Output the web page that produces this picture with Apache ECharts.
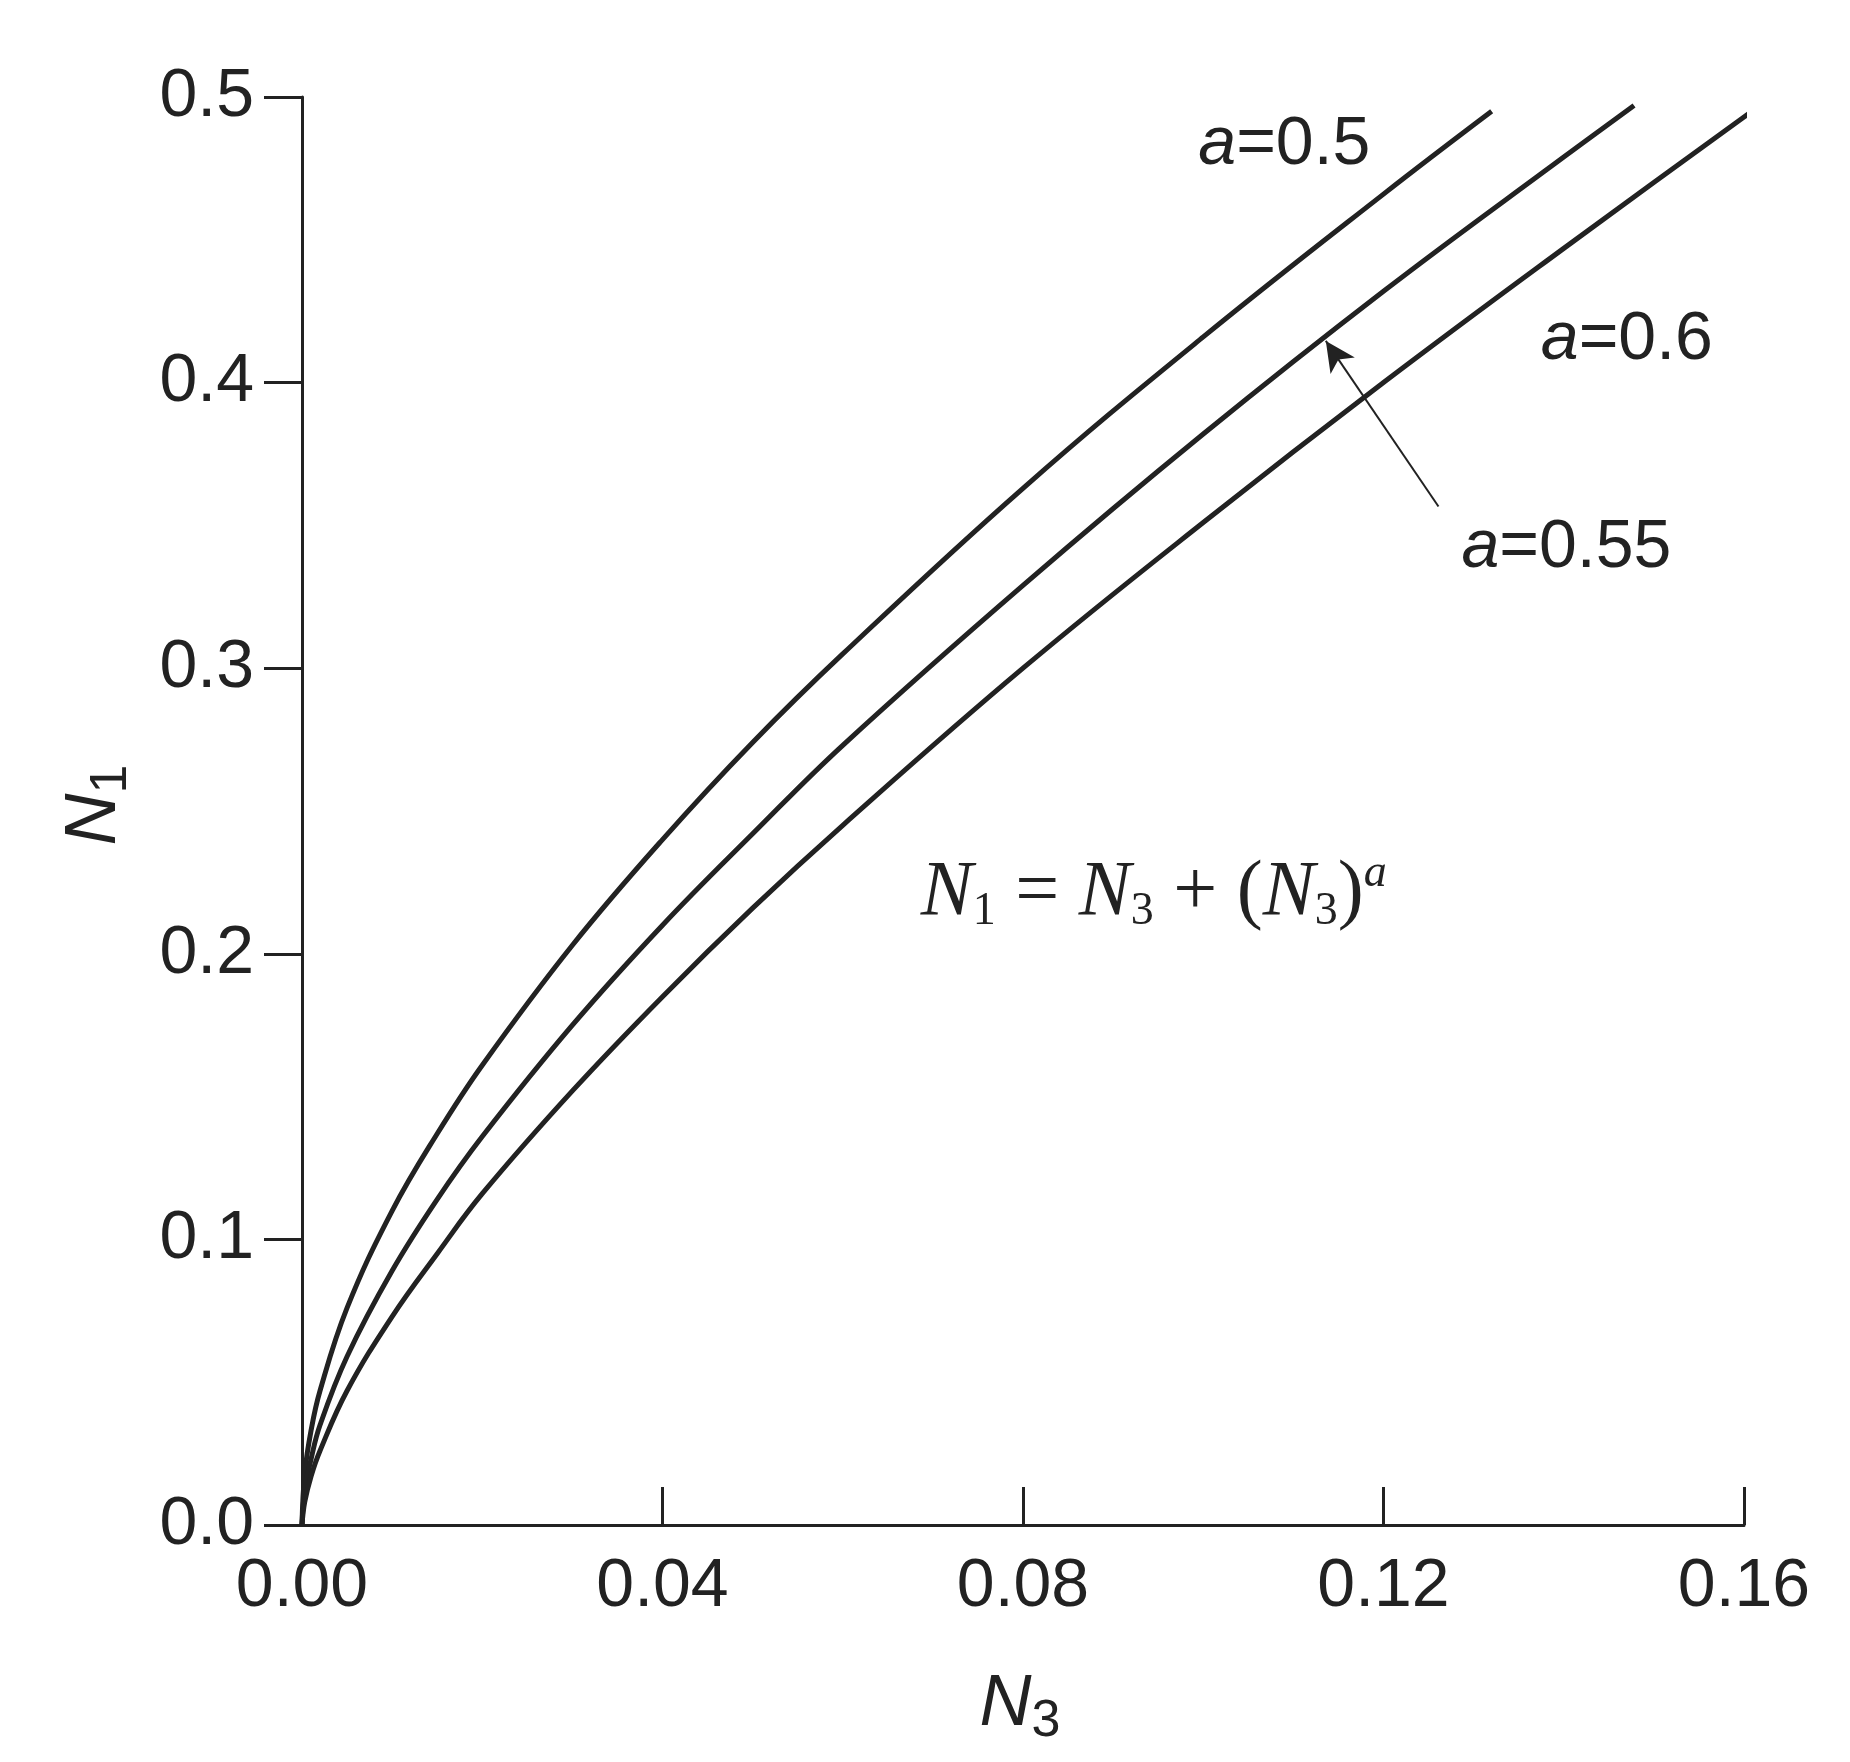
<!DOCTYPE html><html><head><meta charset="utf-8">
<script src="https://cdn.jsdelivr.net/npm/echarts@6/dist/echarts.min.js"></script>
<style>html,body{margin:0;background:#fff}#c{width:1850px;height:1762px}</style></head><body><div id="c"></div>
<script>
const n3 = [0, 0.0003, 0.001, 0.002, 0.005, 0.01, 0.015, 0.02, 0.03, 0.04, 0.05, 0.06, 0.08, 0.10, 0.12, 0.14, 0.16];
const n1_a050 = [0, 0.018, 0.033, 0.047, 0.076, 0.110, 0.137, 0.161, 0.203, 0.240, 0.274, 0.305, 0.363, 0.416, 0.466];
const n1_a055 = [0, 0.012, 0.023, 0.035, 0.059, 0.089, 0.114, 0.136, 0.175, 0.210, 0.242, 0.273, 0.329, 0.382, 0.432, 0.479];
const n1_a060 = [0, 0.008, 0.017, 0.026, 0.047, 0.073, 0.095, 0.116, 0.152, 0.185, 0.216, 0.245, 0.300, 0.351, 0.400, 0.447, 0.493];
const end050 = [0.132, 0.495], end055 = [0.1478, 0.497], end060 = [0.1622, 0.498];
const xTicks = [0, 0.04, 0.08, 0.12, 0.16];
const yTicks = [0, 0.1, 0.2, 0.3, 0.4, 0.5];
function pts(ys, end){ const p = ys.map((y,i)=>[n3[i], y]); p.push(end); return p; }
const C = '#222';
const chart = echarts.init(document.getElementById('c'));
const lineS = (d)=>({type:'line', data:d, smooth:0.4, showSymbol:false, lineStyle:{color:C,width:5}, silent:true});
chart.setOption({
  animation:false,
  grid:{left:302,right:106,top:97,bottom:237},
  xAxis:{type:'value',min:0,max:0.16,interval:0.04,
    axisLine:{lineStyle:{color:C,width:3}},
    axisTick:{inside:true,length:38,lineStyle:{color:C,width:3}},
    axisLabel:{color:C,fontSize:68,fontFamily:'Liberation Sans',margin:28,formatter:v=>v.toFixed(2)},
    splitLine:{show:false}},
  yAxis:{type:'value',min:0,max:0.5,interval:0.1,
    axisLine:{show:true,lineStyle:{color:C,width:3}},
    axisTick:{show:true,length:38,lineStyle:{color:C,width:3}},
    axisLabel:{color:C,fontSize:68,fontFamily:'Liberation Sans',margin:48,formatter:v=>v.toFixed(1)},
    splitLine:{show:false}},
  series:[lineS(pts(n1_a050,end050)), lineS(pts(n1_a055,end055)), 
    Object.assign(lineS(pts(n1_a060,end060)),{markLine:{silent:true,symbol:['none','arrow'],symbolSize:[22,30],
      lineStyle:{color:C,width:2,type:'solid'},label:{show:false},
      data:[[{coord:[0.1261,0.3566]},{coord:[0.1136,0.4146]}]]}})]
});
const p = (x,y)=>chart.convertToPixel({gridIndex:0},[x,y]);
const ff='Liberation Sans';
const lab = (x,y,t)=>{const q=p(x,y);return {type:'text',x:q[0],y:q[1],style:{text:'{i|a}{n|=' + t + '}',rich:{i:{fontStyle:'italic',fontSize:68,fontFamily:ff,fill:C},n:{fontSize:68,fontFamily:ff,fill:C}},align:'center',verticalAlign:'middle'}};};
const eq = p(0.0945,0.221);
chart.setOption({graphic:[
  lab(0.109,0.483,'0.5'), lab(0.147,0.415,'0.6'), lab(0.1403,0.342,'0.55'),
  {type:'text',x:eq[0],y:eq[1],style:{text:'{i|N}{s|1}{n| = }{i|N}{s|3}{n| + (}{i|N}{s|3}{n|)}{u|a}',
    rich:{i:{fontStyle:'italic',fontSize:78,fontFamily:'Liberation Serif',fill:C},n:{fontSize:78,fontFamily:'Liberation Serif',fill:C},s:{fontSize:46,fontFamily:'Liberation Serif',fill:C,padding:[36,0,0,0]},u:{fontStyle:'italic',fontSize:46,fontFamily:'Liberation Serif',fill:C,padding:[0,0,40,0]}},
    align:'center',verticalAlign:'middle'}},
  {type:'text',x:1020,y:1705,style:{text:'{i|N}{s|3}',rich:{i:{fontStyle:'italic',fontSize:72,fontFamily:ff,fill:C},s:{fontSize:52,fontFamily:ff,fill:C,padding:[34,0,0,0]}},align:'center',verticalAlign:'middle'}},
  {type:'text',x:95,y:805,rotation:Math.PI/2,style:{text:'{i|N}{s|1}',rich:{i:{fontStyle:'italic',fontSize:72,fontFamily:ff,fill:C},s:{fontSize:52,fontFamily:ff,fill:C,padding:[34,0,0,0]}},align:'center',verticalAlign:'middle'}}
]});
</script></body></html>
